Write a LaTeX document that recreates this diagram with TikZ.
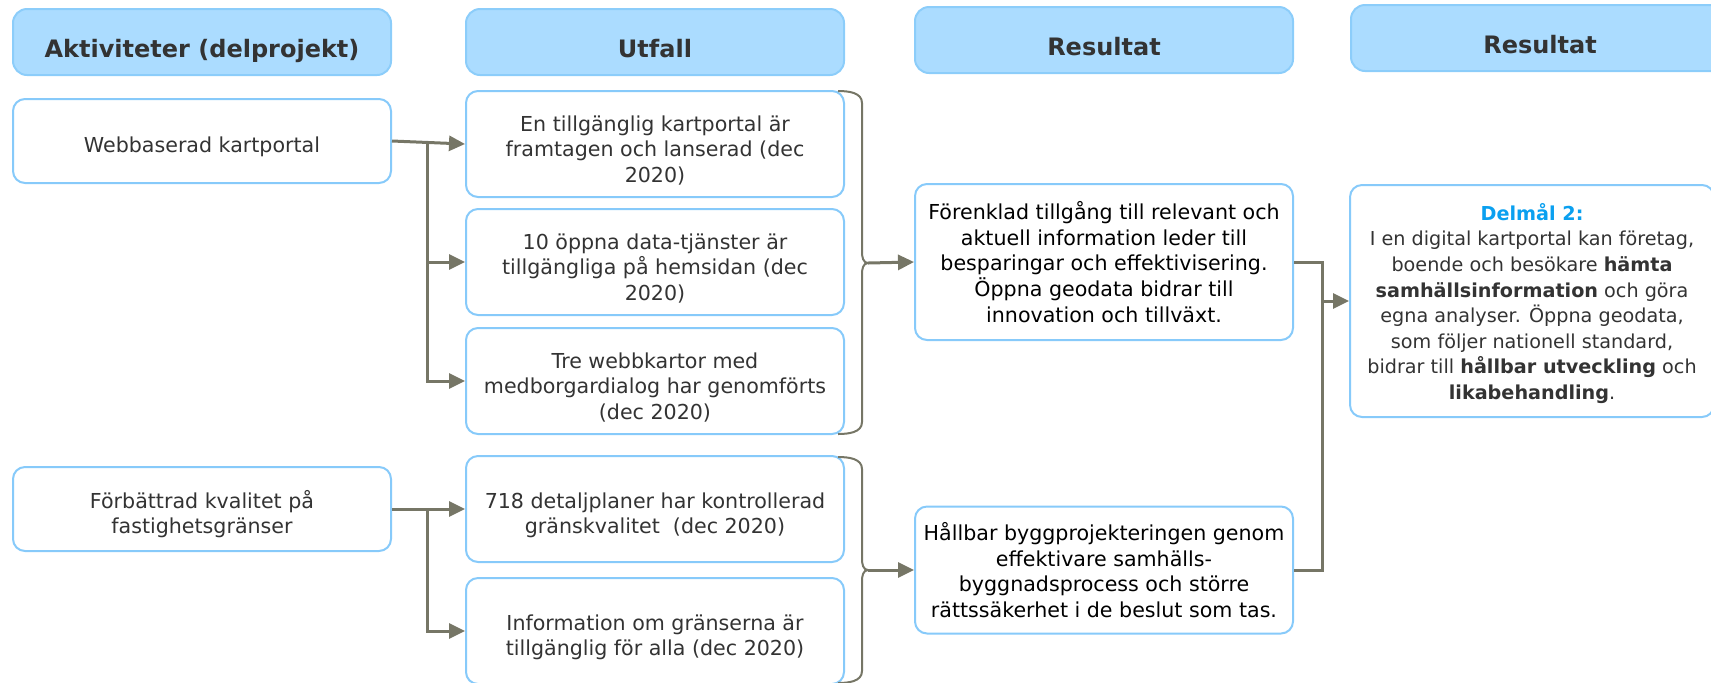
\documentclass[tikz,border=0pt]{standalone}
\usepackage{fontspec}
\setmainfont{DejaVu Sans}
\usetikzlibrary{arrows.meta}
\definecolor{hdrfill}{RGB}{171,220,255}
\definecolor{hdrline}{RGB}{140,205,250}
\definecolor{boxline}{RGB}{135,202,250}
\definecolor{conncol}{RGB}{118,118,102}
\definecolor{txt}{RGB}{51,51,51}
\definecolor{delblue}{RGB}{10,160,240}
\newcommand{\pushdown}{\rule{0pt}{14pt}}
\begin{document}
\begin{tikzpicture}[x=0.5pt,y=-0.5pt,
  hdr/.style={shape=rectangle,rounded corners=7pt,draw=hdrline,fill=hdrfill,line width=1pt,
    minimum width=189pt,minimum height=33pt,inner sep=0pt,text=txt,
    text height=15pt,text depth=0pt,
    font=\fontsize{12pt}{14pt}\selectfont\bfseries},
  box/.style={shape=rectangle,rounded corners=6pt,draw=boxline,fill=white,line width=1pt,
    minimum width=189pt,inner sep=0pt,align=center,text=txt,
    font=\fontsize{10.3pt}{12.8pt}\selectfont},
  line/.style={draw=conncol,line width=1.5pt},
  arr/.style={line,-{Triangle[length=8pt,width=7.5pt]}},
  brace/.style={draw=conncol,line width=1pt}]
\useasboundingbox (0,0) rectangle (1711,682);
\node (h1) at (202,42) [hdr]{Aktiviteter (delprojekt)};
\node (h2) at (655,42) [hdr]{Utfall};
\node (h3) at (1104,40) [hdr]{Resultat};
\node (h4) at (1540,38) [hdr]{Resultat};
\node (a1) at (202,141) [box,minimum height=42pt]{\pushdown Webbaserad kartportal};
\node (a2) at (202,509) [box,minimum height=42pt]{\pushdown Förbättrad kvalitet på\\fastighetsgränser};
\node (u1) at (655,144) [box,minimum height=53pt]{\pushdown En tillgänglig kartportal är\\framtagen och lanserad (dec\\2020)};
\node (u2) at (655,262) [box,minimum height=53pt]{\pushdown 10 öppna data-tjänster är\\tillgängliga på hemsidan (dec\\2020)};
\node (u3) at (655,381) [box,minimum height=53pt]{\pushdown Tre webbkartor med\\medborgardialog har genomförts\\(dec 2020)};
\node (u4) at (655,509) [box,minimum height=53pt]{\pushdown 718 detaljplaner har kontrollerad\\gränskvalitet~~(dec 2020)};
\node (u5) at (655,631) [box,minimum height=53pt]{\pushdown Information om gränserna är\\tillgänglig för alla (dec 2020)};
\node (r1) at (1104,262) [box,minimum height=78pt,text=black]{Förenklad tillgång till relevant och\\aktuell information leder till\\besparingar och effektivisering.\\Öppna geodata bidrar till\\innovation och tillväxt.};
\node (r2) at (1104,570) [box,minimum height=63.5pt,text=black]{Hållbar byggprojekteringen genom\\effektivare samhälls-\\byggnadsprocess och större\\rättssäkerhet i de beslut som tas.};
\node (d) at (1532,301) [box,minimum width=182pt,minimum height=116pt,font=\fontsize{9.6pt}{12.8pt}\selectfont]{\rule{0pt}{11pt}{\color{delblue}\bfseries Delmål 2:}\\I en digital kartportal kan företag,\\boende och besökare \textbf{hämta}\\\textbf{samhällsinformation} och göra\\egna analyser. Öppna geodata,\\som följer nationell standard,\\bidrar till \textbf{hållbar utveckling} och\\\textbf{likabehandling}.};
\coordinate (t1) at (427,141);
\coordinate (t2) at (427,509);
\coordinate (b1) at (868,263);
\coordinate (b2) at (868,570);
\coordinate (m) at (1322,301);
\draw [arr] (a1.east) to (u1.west);
\draw [arr] (t1) |- (u2.west);
\draw [arr] (t1) |- (u3.west);
\draw [arr] (a2.east) to (u4.west);
\draw [arr] (t2) |- (u5.west);
\draw [brace] (838,91) to[out=0,in=90] (862,103) -- (862,252) to[out=-90,in=180] (b1) to[out=180,in=90] (862,274) -- (862,422) to[out=-90,in=0] (838,434);
\draw [brace] (838,457) to[out=0,in=90] (862,469) -- (862,559) to[out=-90,in=180] (b2) to[out=180,in=90] (862,581) -- (862,671) to[out=-90,in=0] (838,683);
\draw [arr] (b1) to (r1.west);
\draw [arr] (b2) to (r2.west);
\draw [line] (r1.east) -| (m |- r2.east) -- (r2.east);
\draw [arr] (m) to (d.west);
\end{tikzpicture}
\end{document}
